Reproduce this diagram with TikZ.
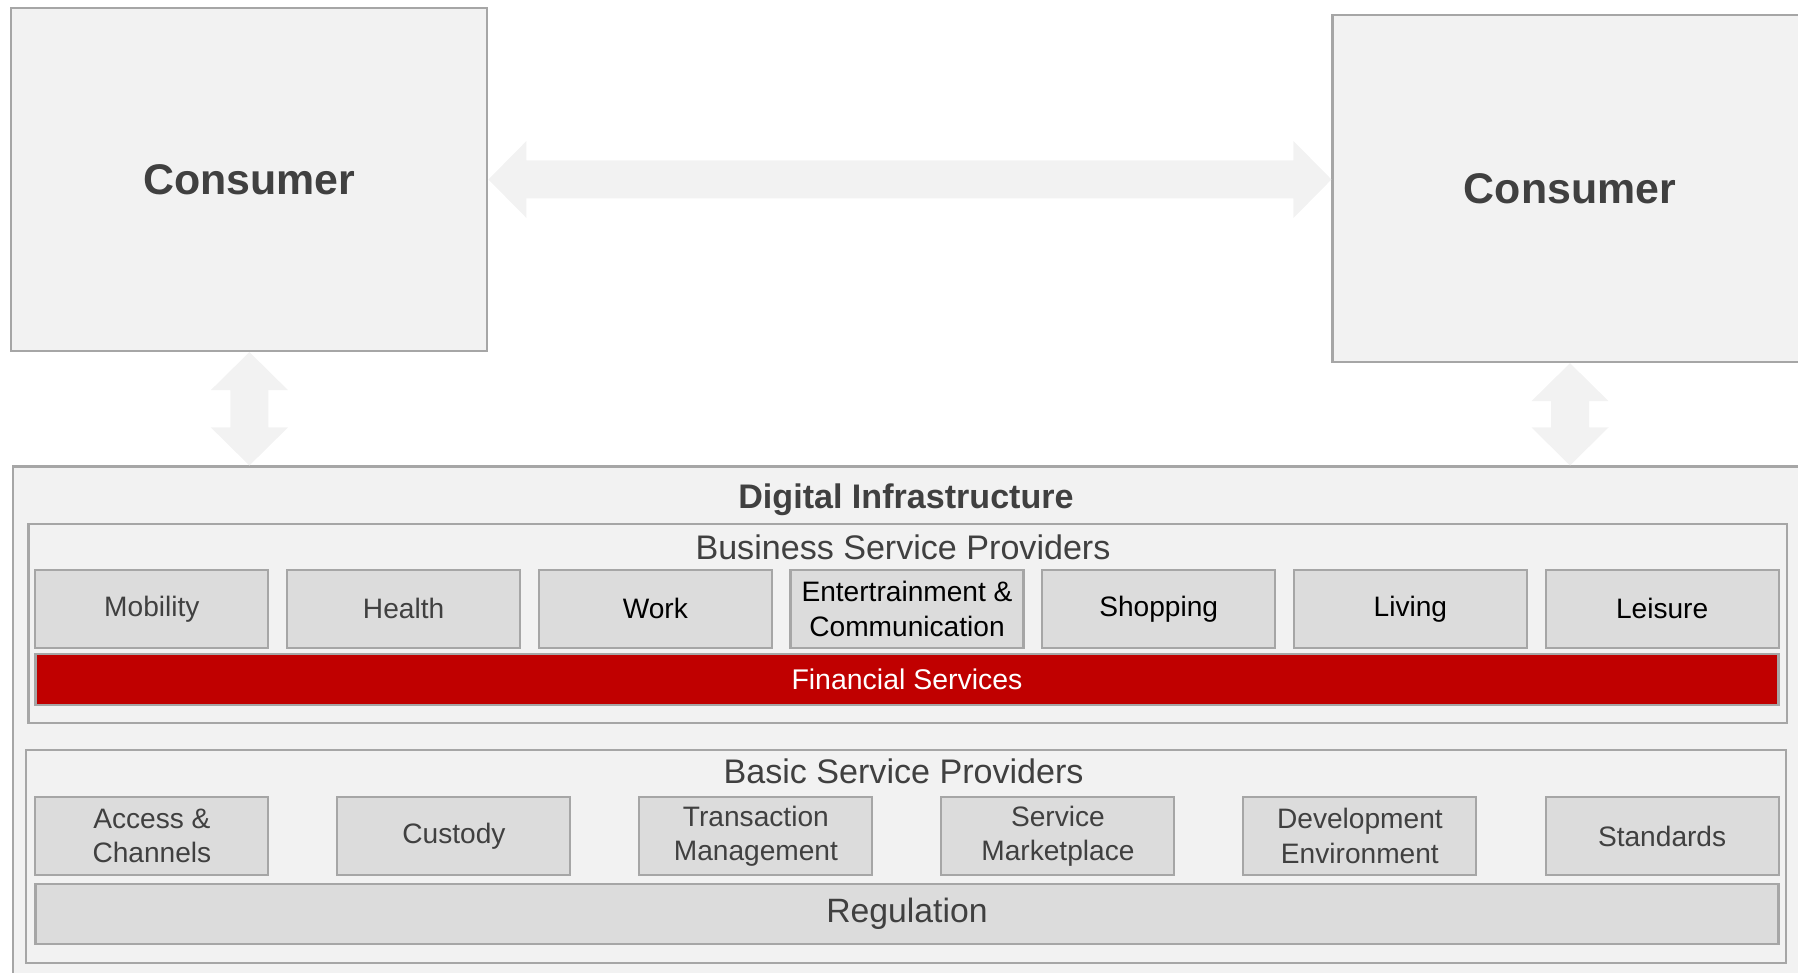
\documentclass[tikz,border=0pt]{standalone}
\usepackage{fontspec}
\setmainfont{Liberation Sans}
\usetikzlibrary{calc}
\definecolor{panelgray}{HTML}{F2F2F2}
\definecolor{tilegray}{HTML}{DCDCDC}
\definecolor{bordergray}{HTML}{A6A6A6}
\definecolor{textgray}{HTML}{404040}
\definecolor{finred}{HTML}{C00000}
\newcommand{\headlen}{0.38cm}
\newcommand{\headhalf}{0.385cm}
\newcommand{\shafthalf}{0.19cm}
\tikzset{
	panel/.style={draw=bordergray,fill=panelgray,line width=0.6pt,inner sep=0pt},
	tile/.style={draw=bordergray,fill=tilegray,line width=0.6pt,inner sep=0pt,align=center,
		minimum width=2.33cm,minimum height=0.78cm,font=\fontsize{8}{9.8}\selectfont},
	bar/.style={draw=bordergray,line width=0.6pt,inner sep=0pt,minimum width=17.43cm},
	titletext/.style={inner sep=0pt,text=textgray,font=\fontsize{9.7}{11.6}\selectfont},
	fatarrow/.style={fill=panelgray}
}
\begin{document}
\begin{tikzpicture}[x=1.0cm,y=1.0cm]
		\useasboundingbox (0,0) rectangle (17.98,9.73);
		% consumers
		\node[panel,minimum width=4.76cm,minimum height=3.43cm,text=textgray,font=\fontsize{12.2}{14.6}\selectfont\bfseries] (lc) at (2.494,7.935) {Consumer};
		\node[panel,minimum width=4.75cm,minimum height=3.47cm,text=textgray,font=\fontsize{12.2}{14.6}\selectfont\bfseries] (rc) at (15.70,7.844) {Consumer};
		% digital infrastructure
		\node[panel,anchor=north west,minimum width=18cm,minimum height=5.4cm] (di) at (0.115,5.075) {};
		\node[titletext,font=\fontsize{9.7}{11.6}\selectfont\bfseries] (dit) at (9.06,4.735) {Digital Infrastructure};
		% business service providers
		\node[panel,anchor=north west,minimum width=17.58cm,minimum height=1.995cm] (bsp) at (0.275,4.501) {};
		\node[titletext] (bspt) at (9.03,4.26) {Business Service Providers};
		\node[tile,text=textgray] (mob) at (1.519,3.641) {Mobility};
		\node[tile,text=textgray] (hea) at (4.036,3.641) {Health};
		\node[tile] (wrk) at (6.553,3.641) {Work};
		\node[tile] (ent) at (9.070,3.641) {Entertrainment \&\\Communication};
		\node[tile] (shp) at (11.587,3.641) {Shopping};
		\node[tile] (liv) at (14.104,3.641) {Living};
		\node[tile] (lei) at (16.621,3.641) {Leisure};
		\node[bar,fill=finred,minimum height=0.516cm,text=white,font=\fontsize{8.1}{9.7}\selectfont] (fin) at (9.07,2.936) {Financial Services};
		% basic service providers
		\node[panel,anchor=north west,minimum width=17.60cm,minimum height=2.133cm] (bas) at (0.252,2.242) {};
		\node[titletext] (bast) at (9.036,2.013) {Basic Service Providers};
		\node[tile,text=textgray] (acc) at (1.519,1.37) {Access \&\\Channels};
		\node[tile,text=textgray] (cus) at (4.539,1.37) {Custody};
		\node[tile,text=textgray] (trx) at (7.559,1.37) {Transaction\\Management};
		\node[tile,text=textgray] (smk) at (10.579,1.37) {Service\\Marketplace};
		\node[tile,text=textgray] (dev) at (13.599,1.37) {Development\\Environment};
		\node[tile,text=textgray] (std) at (16.621,1.37) {Standards};
		\node[bar,fill=tilegray,minimum height=0.596cm,text=textgray,font=\fontsize{9.6}{11.5}\selectfont] (reg) at (9.07,0.591) {Regulation};
		% arrows
		\fill[fatarrow] let \p1=(lc.east), \p2=(rc.west) in
			(\x1,\y1) -- (\x1+\headlen,\y1+\headhalf) -- (\x1+\headlen,\y1+\shafthalf) -- (\x2-\headlen,\y1+\shafthalf) -- (\x2-\headlen,\y1+\headhalf) -- (\x2,\y1)
			-- (\x2-\headlen,\y1-\headhalf) -- (\x2-\headlen,\y1-\shafthalf) -- (\x1+\headlen,\y1-\shafthalf) -- (\x1+\headlen,\y1-\headhalf) -- cycle;
		\fill[fatarrow] let \p1=(lc.south), \p2=(di.north) in
			(\x1,\y1) -- (\x1+\headhalf,\y1-\headlen) -- (\x1+\shafthalf,\y1-\headlen) -- (\x1+\shafthalf,\y2+\headlen) -- (\x1+\headhalf,\y2+\headlen) -- (\x1,\y2)
			-- (\x1-\headhalf,\y2+\headlen) -- (\x1-\shafthalf,\y2+\headlen) -- (\x1-\shafthalf,\y1-\headlen) -- (\x1-\headhalf,\y1-\headlen) -- cycle;
		\fill[fatarrow] let \p1=(rc.south), \p2=(di.north) in
			(\x1,\y1) -- (\x1+\headhalf,\y1-\headlen) -- (\x1+\shafthalf,\y1-\headlen) -- (\x1+\shafthalf,\y2+\headlen) -- (\x1+\headhalf,\y2+\headlen) -- (\x1,\y2)
			-- (\x1-\headhalf,\y2+\headlen) -- (\x1-\shafthalf,\y2+\headlen) -- (\x1-\shafthalf,\y1-\headlen) -- (\x1-\headhalf,\y1-\headlen) -- cycle;
\end{tikzpicture}
\end{document}
